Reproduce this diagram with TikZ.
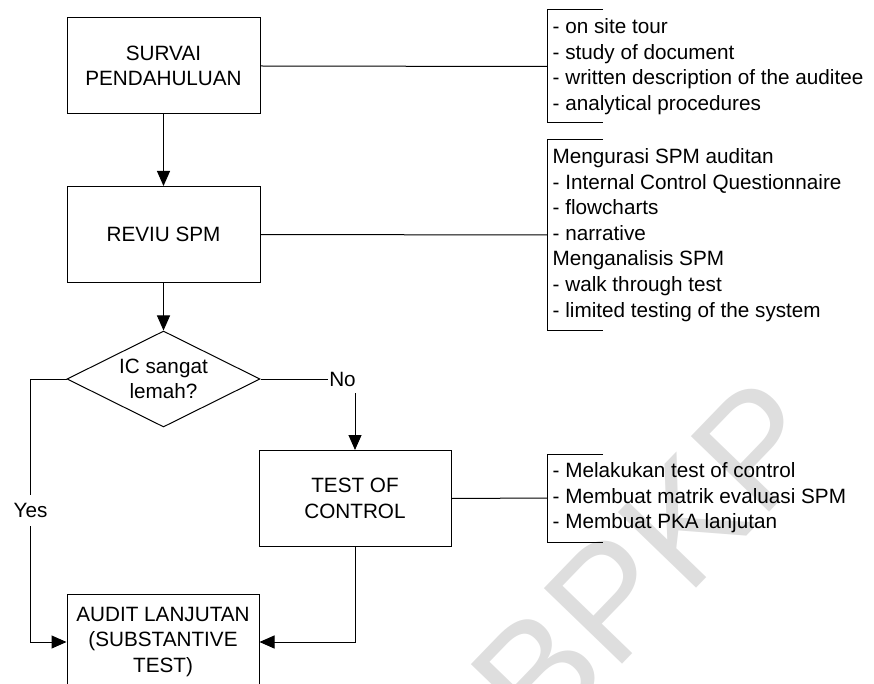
\documentclass[tikz,border=0pt]{standalone}
\usepackage{fontspec}
\setmainfont{Liberation Sans}
\usetikzlibrary{shapes.geometric,arrows.meta,calc}

\tikzset{
  txt/.style={font=\fontsize{20.7}{25.6}\selectfont, align=center},
  stepbox/.style={txt, draw=black, line width=1pt, minimum width=193pt,
    minimum height=96pt, inner sep=0pt},
  decision/.style={txt, draw=black, line width=1pt, diamond, aspect=2,
    minimum width=193pt, minimum height=96pt, inner sep=0pt},
  notes/.style={font=\fontsize{20.7}{25.6}\selectfont, align=left,
    anchor=west, inner sep=0pt},
  link/.style={draw=black, line width=1pt},
  arr/.style={link, -{Triangle[length=15pt, width=13pt]}},
  brace/.style={draw=black, line width=1pt},
  wmark/.style={font=\fontsize{158}{158}\selectfont, text=black!13, rotate=46}
}

\begin{document}
\begin{tikzpicture}[x=1pt, y=-1pt]
  \useasboundingbox (0,0) rectangle (874,684);
  \clip (0,0) rectangle (874,684);

  % background watermark
  \node[wmark] (wm) at (648,560) {BPKP};

  % main flow
  \node[stepbox] (survai) at (163.5,66) {SURVAI\\PENDAHULUAN};
  \node[stepbox] (reviu)  at (163.5,234.5) {REVIU SPM};
  \node[decision] (ic)    at (163.5,379) {IC sangat\\lemah?};
  \node[stepbox, minimum width=192pt] (toc) at (355,498.5) {TEST OF\\CONTROL};
  \node[stepbox, minimum width=192pt] (audit) at (163,642) {AUDIT LANJUTAN\\(SUBSTANTIVE\\TEST)};

  \draw[arr] (survai) -- (reviu);
  \draw[arr] (reviu) -- (ic);

  % "No" branch
  \node[txt, inner sep=0pt] (no) at (342.5,379) {No};
  \draw[link] (ic.east) -- ($(no.west)+(-1,0)$);
  \draw[arr] ($(no.south -| toc.north)+(0,7)$) -- (toc.north);

  % "Yes" branch
  \draw[arr] (ic.west) -- ++(-36,0) |- node[pos=0.25, txt, fill=white,
    inner xsep=1pt, inner ysep=8.5pt] (yes) {Yes} (audit.west);

  % return from test of control
  \draw[arr] (toc.south) |- (audit.east);

  % annotation brackets
  \coordinate (b1) at (547,66.5);
  \coordinate (b2) at (547,235);
  \coordinate (b3) at (547,498);

  \draw[link] (survai.east) -- (b1);
  \draw[link] (reviu.east) -- (b2);
  \draw[link] (toc.east) -- (b3);

  \draw[brace] ($(b1)+(56,-56.5)$) -- ++(-56,0) -- ++(0,113) -- ++(56,0);
  \draw[brace] ($(b2)+(56,-95)$) -- ++(-56,0) -- ++(0,190) -- ++(56,0);
  \draw[brace] ($(b3)+(56,-44)$) -- ++(-56,0) -- ++(0,88) -- ++(56,0);

  \node[notes] (n1) at ($(b1)+(5.5,0)$) {- on site tour\\- study of document\\- written description of the auditee\\- analytical procedures};
  \node[notes] (n2) at ($(b2)+(5.5,0)$) {Mengurasi SPM auditan\\- Internal Control Questionnaire\\- flowcharts\\- narrative\\Menganalisis SPM\\- walk through test\\- limited testing of the system};
  \node[notes] (n3) at ($(b3)+(5.5,0)$) {- Melakukan test of control\\- Membuat matrik evaluasi SPM\\- Membuat PKA lanjutan};
\end{tikzpicture}
\end{document}
